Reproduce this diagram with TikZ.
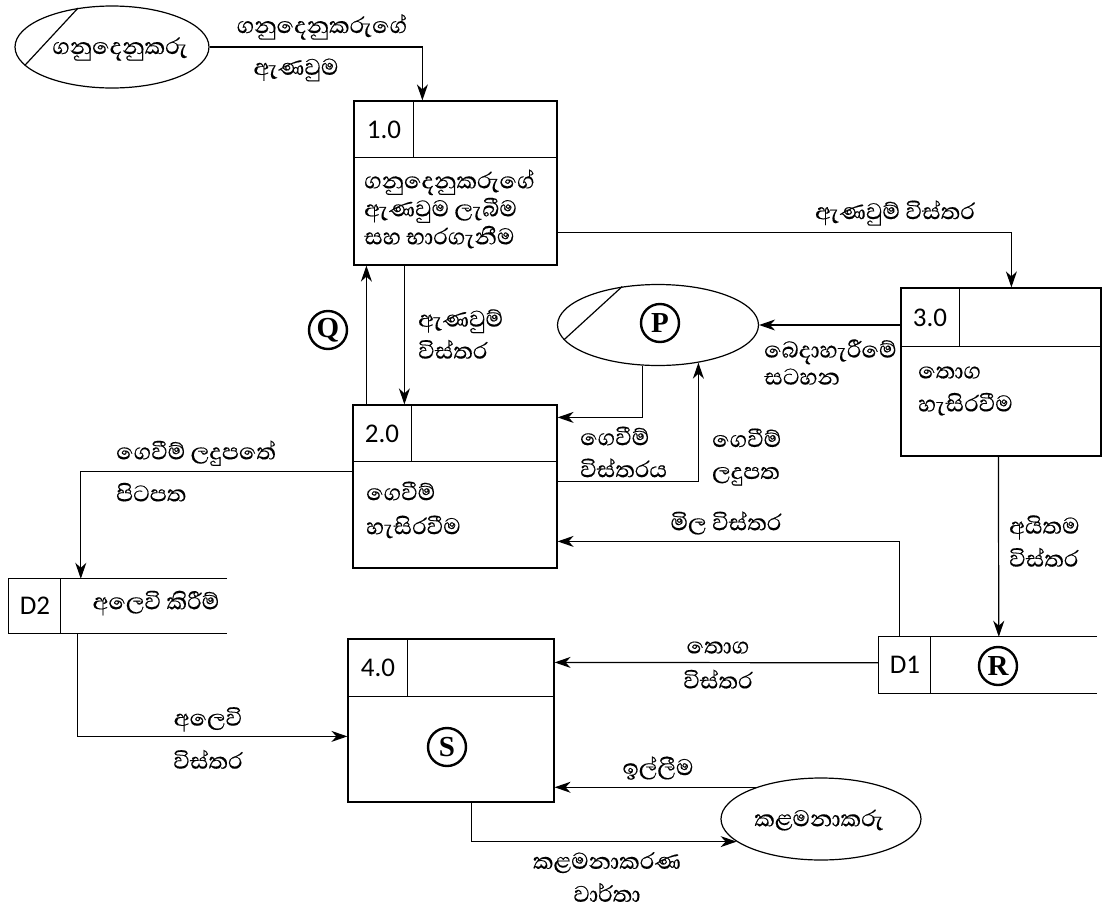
\documentclass[tikz,border=0pt]{standalone}
\usepackage{fontspec}
\setmainfont{Liberation Serif}
\newfontfamily\sinhala[Script=Sinhala,FakeBold=0.3]{Abhaya Libre}
\newfontfamily\numfont{Carlito}
\usetikzlibrary{shapes.geometric,arrows.meta,calc}
\newcommand{\skipto}[1]{\sinhala\fontsize{29}{#1}\selectfont}
\tikzset{
  flow/.style={line width=1.2pt,-{Stealth[length=16pt,width=11pt,inset=5pt]}},
  procbox/.style={draw,line width=1.2pt,rectangle,inner sep=0pt},
  storebox/.style={rectangle,inner sep=0pt},
  entity/.style={draw,line width=1.2pt,ellipse,inner sep=0pt},
  lbl/.style={font=\skipto{33},inner sep=0pt,align=left},
  idtxt/.style={font=\numfont\fontsize{27}{27}\selectfont,inner sep=0pt},
  circletter/.style={draw,circle,line width=2.4pt,minimum size=38pt,inner sep=0pt,
    font=\bfseries\fontsize{29}{29}\selectfont}
}
\begin{document}
\begin{tikzpicture}[x=1pt,y=-1pt]
\useasboundingbox (0,0) rectangle (1104,911);
% entities
\node[entity,minimum width=194pt,minimum height=82pt] (cust) at (112,47) {};
\node[entity,minimum width=201pt,minimum height=81pt] (pay) at (658,325) {};
\node[entity,minimum width=200pt,minimum height=82pt] (mgr) at (821,819) {};
\draw[line width=1.2pt] (cust.131) -- (cust.192);
\draw[line width=1.2pt] (pay.133) -- (pay.189);
\node[lbl] (custtxt) at (120,49) {ගනුදෙනුකරු};
\node[lbl] (mgrtxt) at (819,820) {කළමනාකරු};
% processes
\node[procbox,minimum width=203pt,minimum height=164pt] (p1) at (455.5,183) {};
\node[procbox,minimum width=204pt,minimum height=163pt] (p2) at (455,486.5) {};
\node[procbox,minimum width=200pt,minimum height=168pt] (p3) at (1001,372) {};
\node[procbox,minimum width=206pt,minimum height=163pt] (p4) at (451,720.5) {};
\foreach \b/\h/\i in {p1/57/60, p2/57/59, p3/59/59, p4/58/60}{
  \draw[line width=1.2pt] ($(\b.north west)+(0,\h)$) -- ($(\b.north east)+(0,\h)$);
  \draw[line width=1.2pt] ($(\b.north west)+(\i,0)$) -- ($(\b.north west)+(\i,\h)$);
}
% data stores
\node[storebox,minimum width=218pt,minimum height=54pt] (d2) at (118,606) {};
\node[storebox,minimum width=218pt,minimum height=56pt] (d1) at (988,665) {};
\foreach \s in {d1,d2}{
  \draw[line width=1.2pt] (\s.north east) -- (\s.north west) -- (\s.south west) -- (\s.south east);
  \draw[line width=1.2pt] ($(\s.north west)+(52,0)$) -- ($(\s.south west)+(52,0)$);
}
\node[idtxt] (p1id) at (384,130) {1.0};
\node[idtxt] (p2id) at (382,434) {2.0};
\node[idtxt] (p3id) at (930,318) {3.0};
\node[idtxt] (p4id) at (378,668) {4.0};
\node[idtxt] (d2id) at (35,606) {D2};
\node[idtxt] (d1id) at (905,665) {D1};
\node[lbl,anchor=west,font=\skipto{28}] (p1txt) at (364,209)
  {ගනුදෙනුකරුගේ\\ඇණවුම ලැබීම\\සහ භාරගැනීම};
\node[lbl,anchor=west,font=\skipto{34}] (p2txt) at (366,510) {ගෙවීම්\\හැසිරවීම};
\node[lbl,anchor=west,font=\skipto{33}] (p3txt) at (918,391) {තොග\\හැසිරවීම};
\node[lbl] (d2txt) at (156,603) {අලෙවි කිරීම්};
\foreach \n/\l/\x/\y in {cq/Q/328/330, cp/P/660/323, cr/R/998/666, cs/S/447/747}
  \node[circletter] (\n) at (\x,\y) {\l};
% flows
\draw[flow] (cust.east) -| ($(p1.north west)+(69,0)$);
\draw[flow] ($(p1.north east)+(0,132)$) -| ($(p3.north west)+(111,0)$);
\draw[flow] (p3.west |- pay.east) -- (pay.east);
\draw[flow] ($(p1.south west)+(51,0)$) -- ($(p2.north west)+(52,0)$);
\draw[flow] ($(p2.north west)+(14,0)$) -- ($(p1.south west)+(13,0)$);
\draw[flow] (pay.-111) |- ($(p2.north east)+(0,13)$);
\draw[flow] ($(p2.north east)+(0,77)$) -| (pay.-43);
\draw[flow] ($(p2.north west)+(0,67)$) -| ($(d2.north west)+(72,0)$);
\draw[flow] ($(d1.north west)+(21,0)$) |- ($(p2.north east)+(0,137)$);
\draw[flow] ($(p3.south west)+(98,0)$) -- ($(d1.north west)+(120,0)$);
\draw[flow] ($(d1.north west)+(0,26)$) -- ($(p4.north east)+(0,24)$);
\draw[flow] ($(d2.south west)+(69,0)$) |- ($(p4.north west)+(0,98)$);
\draw[flow] (mgr.154) -- (mgr.154 -| p4.east);
\draw[flow] ($(p4.south west)+(124,0)$) |- (mgr.195);
% flow labels
\node[lbl] (l1a) at (322,27) {ගනුදෙනුකරුගේ};
\node[lbl] (l1b) at (296,70) {ඇණවුම};
\node[lbl] (l2) at (895,213) {ඇණවුම් විස්තර};
\node[lbl,anchor=west,font=\skipto{27}] (l3) at (764,362) {බෙදාහැරීමේ\\සටහන};
\node[lbl,anchor=west,font=\skipto{32}] (l4) at (418,334) {ඇණවුම්\\විස්තර};
\node[lbl,anchor=west,font=\skipto{32}] (l5) at (580,452) {ගෙවීම්\\විස්තරය};
\node[lbl,anchor=west,font=\skipto{32}] (l6) at (712,457) {ගෙවීම්\\ලදුපත};
\node[lbl,anchor=west,font=\skipto{42}] (l7) at (116,471) {ගෙවීම් ලදුපතේ\\පිටපත};
\node[lbl] (l8) at (726,523) {මිල විස්තර};
\node[lbl,anchor=west,font=\skipto{33}] (l9) at (1009,541) {අයිතම\\විස්තර};
\node[lbl,align=center,font=\skipto{35}] (l10) at (718,665) {තොග\\විස්තර};
\node[lbl,align=center,font=\skipto{43}] (l11) at (208,738) {අලෙවි\\විස්තර};
\node[lbl] (l12) at (658,768) {ඉල්ලීම};
\node[lbl,align=center,font=\skipto{33}] (l13) at (607,877) {කළමනාකරණ\\වාර්තා};
\end{tikzpicture}
\end{document}
